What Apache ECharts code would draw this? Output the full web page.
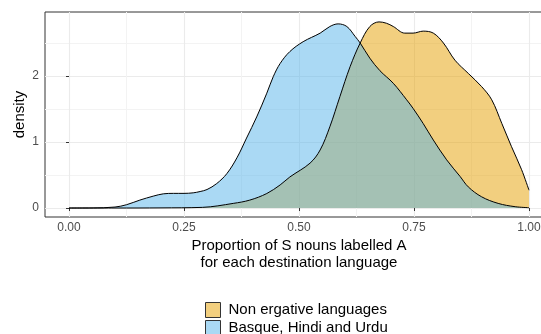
<!DOCTYPE html>
<html>
<head>
<meta charset="utf-8">
<script src="https://cdn.jsdelivr.net/npm/echarts@6/dist/echarts.min.js"></script>
<style>
html,body{margin:0;padding:0;background:#fff;}
#chart{width:541px;height:334px;}
</style>
</head>
<body>
<div id="chart"></div>
<script>
// Series names (legend order)
var seriesNames = ["Non ergative languages", "Basque, Hindi and Urdu"];

// Density curve: Non ergative languages  [x, density]
var nonErgative = [
  [0,0],[0.1,0],[0.2,0.002],[0.29,0.01],[0.357,0.07],[0.393,0.12],[0.43,0.22],
  [0.459,0.35],[0.48,0.47],[0.524,0.68],[0.546,0.88],[0.567,1.23],[0.589,1.69],
  [0.611,2.14],[0.633,2.5],[0.654,2.75],[0.674,2.82],[0.69,2.8],[0.705,2.75],
  [0.73,2.65],[0.748,2.65],[0.77,2.68],[0.792,2.65],[0.814,2.5],[0.839,2.24],
  [0.868,2.04],[0.897,1.84],[0.919,1.64],[0.941,1.28],[0.962,0.93],[0.984,0.58],[1.0,0.27]
];

// Density curve: Basque, Hindi and Urdu  [x, density]
var basqueHindiUrdu = [
  [0,0],[0.05,0.001],[0.1,0.015],[0.125,0.05],[0.154,0.12],[0.183,0.18],[0.205,0.215],
  [0.227,0.222],[0.25,0.222],[0.27,0.23],[0.285,0.25],[0.3,0.28],[0.321,0.37],
  [0.343,0.52],[0.365,0.76],[0.386,1.06],[0.408,1.38],[0.43,1.74],[0.444,1.99],
  [0.459,2.19],[0.48,2.37],[0.509,2.52],[0.546,2.65],[0.567,2.75],[0.585,2.79],
  [0.604,2.75],[0.622,2.6],[0.633,2.5],[0.654,2.27],[0.676,2.08],[0.705,1.89],
  [0.734,1.64],[0.748,1.51],[0.77,1.28],[0.792,1.03],[0.821,0.73],[0.85,0.48],
  [0.868,0.32],[0.897,0.17],[0.933,0.07],[0.97,0.02],[1.0,0.005]
];

// Tick values
var xTicks = [0, 0.25, 0.5, 0.75, 1];
var xMinorTicks = [0.125, 0.375, 0.625, 0.875];
var yTicks = [0, 1, 2];
var yMinorTicks = [0.5, 1.5, 2.5];

var xTitle = "Proportion of S nouns labelled A\nfor each destination language";
var yTitle = "density";

var fillColors = ["#E69F00", "#56B4E9"];
var keyColors = ["#F2CF7F", "#AAD9F4"];

var FONT = "Liberation Sans";
var xMin = -0.0522, xMax = 1.0522, yMin = -0.136, yMax = 2.97;

var chart = echarts.init(document.getElementById('chart'), null, {renderer: 'canvas'});
var option = {
  animation: false,
  backgroundColor: '#ffffff',
  textStyle: {fontFamily: FONT},
  grid: {
    left: 45, top: 12, width: 508, height: 205,
    show: true, borderColor: '#333333', borderWidth: 1, backgroundColor: 'transparent',
    containLabel: false, outerBoundsMode: 'none'
  },
  legend: {
    orient: 'vertical',
    left: 205, top: 302, height: 60, padding: 0,
    itemWidth: 15, itemHeight: 15, itemGap: 2,
    textStyle: {fontFamily: FONT, fontSize: 15, color: '#000000', padding: [0,0,0,3]},
    data: seriesNames.map(function(n, i){
      return {name: n, icon: 'rect', itemStyle: {color: keyColors[i], borderColor: '#333333', borderWidth: 1}};
    })
  },
  xAxis: [{
    type: 'value', min: xMin, max: xMax,
    name: xTitle, nameLocation: 'middle', nameGap: 20, nameMoveOverlap: false,
    nameTextStyle: {fontFamily: FONT, fontSize: 15, color: '#000000', lineHeight: 17},
    axisLine: {show: false},
    axisTick: {show: true, length: 3, lineStyle: {color: '#333333'}, customValues: xTicks},
    axisLabel: {fontFamily: FONT, fontSize: 12, color: '#4D4D4D', margin: 5, customValues: xTicks,
      formatter: function(v){ return v.toFixed(2); }},
    splitLine: {show: true, lineStyle: {color: '#EBEBEB', width: 1.1}}
  }, {
    type: 'value', min: xMin, max: xMax, position: 'bottom',
    axisLine: {show: false},
    axisTick: {show: false, customValues: xMinorTicks},
    axisLabel: {show: false, customValues: xMinorTicks},
    splitLine: {show: true, lineStyle: {color: '#F3F3F3', width: 1}}
  }],
  yAxis: [{
    type: 'value', min: yMin, max: yMax,
    name: yTitle, nameLocation: 'middle', nameGap: 18, nameMoveOverlap: false,
    nameTextStyle: {fontFamily: FONT, fontSize: 15, color: '#000000'},
    axisLine: {show: false},
    axisTick: {show: true, length: 3, lineStyle: {color: '#333333'}, customValues: yTicks},
    axisLabel: {fontFamily: FONT, fontSize: 12, color: '#4D4D4D', margin: 6, customValues: yTicks},
    splitLine: {show: true, lineStyle: {color: '#EBEBEB', width: 1.1}}
  }, {
    type: 'value', min: yMin, max: yMax, position: 'left',
    axisLine: {show: false},
    axisTick: {show: false, customValues: yMinorTicks},
    axisLabel: {show: false, customValues: yMinorTicks},
    splitLine: {show: true, lineStyle: {color: '#F3F3F3', width: 1}}
  }],
  series: [
    {
      name: seriesNames[0], type: 'line', data: nonErgative,
      xAxisIndex: 0, yAxisIndex: 0,
      smooth: 0.35, showSymbol: false, symbol: 'none',
      color: fillColors[0],
      lineStyle: {color: '#000000', width: 1},
      areaStyle: {color: fillColors[0], opacity: 0.5}
    },
    {
      name: seriesNames[1], type: 'line', data: basqueHindiUrdu,
      xAxisIndex: 0, yAxisIndex: 0,
      smooth: 0.35, showSymbol: false, symbol: 'none',
      color: fillColors[1],
      lineStyle: {color: '#000000', width: 1},
      areaStyle: {color: fillColors[1], opacity: 0.5}
    }
  ]
};
chart.setOption(option);
</script>
</body>
</html>
